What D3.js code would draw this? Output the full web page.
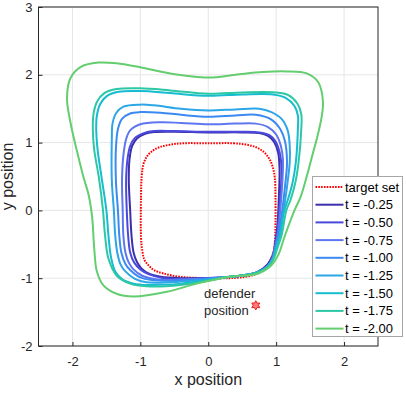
<!DOCTYPE html>
<html>
  <head>
    <meta charset="utf-8">
    <title>Reach-avoid level sets</title>
    <script src="https://d3js.org/d3.v7.min.js"></script>
    <style>
      body { margin: 0; background: #fff; }
      svg { font-family: "Liberation Sans", Arial, sans-serif; }
      .grid line { stroke: #e6e6e6; stroke-width: 1; }
      .axis path, .axis line { stroke: #262626; }
      .axis text { fill: #262626; font-size: 13px; }
      .contour { fill: none; stroke-width: 2; }
    </style>
  </head>
  <body>
    <svg id="chart" width="406" height="393"></svg>
    <script>
      // tick labels
      xTicks = [-2, -1, 0, 1, 2];
      yTicks = [-2, -1, 0, 1, 2, 3];
      // legend entries
      times = ["-0.25", "-0.50", "-0.75", "-1.00", "-1.25", "-1.50", "-1.75", "-2.00"];
      colours = ["#3b2fab", "#4a49dc", "#5e76f0", "#3c89f1", "#2ca6e6", "#16bccf", "#2cc7a4", "#63cd6f"];
      // target set outline
      targetSet = [[0,0.99],[0.37,0.99],[0.56,0.97],[0.71,0.93],[0.82,0.86],[0.9,0.76],[0.95,0.64],[0.98,0.48],[0.99,0.2],[0.99,-0.2],[0.98,-0.48],[0.96,-0.62],[0.9,-0.76],[0.81,-0.87],[0.7,-0.94],[0.54,-0.98],[0.3,-1.0],[0,-1.0],[-0.41,-0.98],[-0.66,-0.93],[-0.8,-0.88],[-0.88,-0.81],[-0.94,-0.73],[-0.97,-0.6],[-0.99,-0.4],[-0.99,0.2],[-0.98,0.5],[-0.955,0.68],[-0.9,0.8],[-0.81,0.885],[-0.71,0.935],[-0.56,0.97],[-0.37,0.99]];
      // level set outlines, one per time
      c025 = [[0,1.15],[0.5,1.15],[0.75,1.14],[0.88,1.1],[0.97,1.01],[1.03,0.85],[1.05,0.6],[1.04,0.2],[1.02,-0.2],[0.99,-0.45],[0.95,-0.66],[0.87,-0.8],[0.72,-0.91],[0.5,-0.96],[0.2,-0.99],[-0.4,-1.0],[-0.7,-0.98],[-0.88,-0.93],[-0.98,-0.86],[-1.05,-0.76],[-1.1,-0.62],[-1.13,-0.37],[-1.15,0],[-1.17,0.44],[-1.16,0.75],[-1.12,0.95],[-1.05,1.06],[-0.93,1.13],[-0.8,1.155],[-0.5,1.16]];
      c050 = [[0,1.16],[0.5,1.16],[0.75,1.15],[0.9,1.11],[0.99,1.02],[1.05,0.86],[1.08,0.6],[1.06,0.2],[1.03,-0.2],[1.0,-0.45],[0.96,-0.66],[0.88,-0.8],[0.72,-0.91],[0.5,-0.96],[0.2,-0.99],[-0.4,-1.01],[-0.66,-1.0],[-0.88,-0.94],[-1.0,-0.87],[-1.09,-0.77],[-1.15,-0.62],[-1.18,-0.37],[-1.2,0],[-1.21,0.44],[-1.19,0.75],[-1.15,0.95],[-1.08,1.07],[-0.95,1.14],[-0.8,1.17],[-0.5,1.17]];
      c075 = [[0,1.27],[0.4,1.28],[0.7,1.28],[0.88,1.23],[1.0,1.12],[1.07,0.95],[1.1,0.75],[1.09,0.4],[1.06,0],[1.02,-0.37],[0.98,-0.55],[0.94,-0.72],[0.86,-0.84],[0.7,-0.93],[0.32,-0.98],[-0.4,-1.02],[-0.75,-1.02],[-0.98,-0.96],[-1.1,-0.87],[-1.17,-0.77],[-1.22,-0.62],[-1.25,-0.37],[-1.26,0],[-1.27,0.44],[-1.25,0.81],[-1.21,1.05],[-1.15,1.18],[-1.0,1.27],[-0.7,1.3],[-0.4,1.29]];
      c100 = [[0,1.38],[0.4,1.4],[0.7,1.41],[0.93,1.34],[1.06,1.2],[1.13,1.02],[1.16,0.71],[1.13,0.35],[1.09,0],[1.03,-0.37],[0.99,-0.55],[0.95,-0.72],[0.86,-0.84],[0.7,-0.93],[0.32,-0.98],[-0.4,-1.03],[-0.81,-1.03],[-1.02,-0.98],[-1.15,-0.88],[-1.22,-0.79],[-1.28,-0.62],[-1.31,-0.37],[-1.33,0],[-1.36,0.44],[-1.36,0.91],[-1.33,1.2],[-1.27,1.35],[-1.15,1.43],[-1.0,1.45],[-0.7,1.44],[-0.4,1.41]];
      c125 = [[0,1.475],[0.4,1.49],[0.75,1.5],[0.93,1.45],[1.08,1.35],[1.17,1.18],[1.2,0.95],[1.2,0.71],[1.16,0.35],[1.11,0],[1.05,-0.37],[1.0,-0.55],[0.95,-0.72],[0.87,-0.83],[0.71,-0.92],[0.32,-0.98],[-0.4,-1.05],[-0.91,-1.06],[-1.08,-1.01],[-1.22,-0.9],[-1.29,-0.8],[-1.34,-0.62],[-1.37,-0.37],[-1.39,0],[-1.42,0.44],[-1.42,1.06],[-1.41,1.28],[-1.36,1.43],[-1.25,1.53],[-1.0,1.56],[-0.8,1.55],[-0.4,1.5]];
      c150 = [[0,1.69],[0.5,1.71],[0.95,1.71],[1.14,1.66],[1.27,1.54],[1.32,1.4],[1.32,1.2],[1.29,0.71],[1.24,0.4],[1.17,0.15],[1.12,0],[1.06,-0.37],[1.01,-0.52],[0.95,-0.72],[0.87,-0.83],[0.71,-0.92],[0.32,-0.98],[-0.4,-1.08],[-0.9,-1.1],[-1.1,-1.08],[-1.26,-1.02],[-1.37,-0.9],[-1.43,-0.7],[-1.47,-0.37],[-1.5,0],[-1.57,0.48],[-1.63,0.9],[-1.65,1.2],[-1.64,1.4],[-1.59,1.57],[-1.49,1.69],[-1.32,1.75],[-1.0,1.76],[-0.56,1.73]];
      c175 = [[0,1.72],[0.5,1.74],[0.98,1.74],[1.18,1.7],[1.31,1.58],[1.37,1.42],[1.37,1.2],[1.33,0.71],[1.28,0.4],[1.21,0.15],[1.15,0],[1.08,-0.37],[1.03,-0.52],[0.96,-0.72],[0.88,-0.83],[0.72,-0.92],[0.32,-0.98],[-0.41,-1.1],[-0.91,-1.12],[-1.15,-1.08],[-1.35,-0.96],[-1.47,-0.71],[-1.52,-0.37],[-1.55,0],[-1.61,0.48],[-1.68,0.9],[-1.7,1.2],[-1.69,1.42],[-1.64,1.6],[-1.53,1.73],[-1.35,1.79],[-1.0,1.8],[-0.56,1.77]];
      c200 = [[0,1.96],[0.4,2.0],[0.8,2.04],[1.15,2.05],[1.45,2.02],[1.62,1.89],[1.69,1.6],[1.67,1.38],[1.61,1.1],[1.53,0.8],[1.45,0.5],[1.36,0.2],[1.27,0],[1.13,-0.37],[1.03,-0.66],[0.93,-0.81],[0.74,-0.93],[0.32,-0.98],[-0.17,-1.08],[-0.61,-1.2],[-1.1,-1.27],[-1.35,-1.23],[-1.54,-1.11],[-1.64,-0.9],[-1.68,-0.55],[-1.71,-0.1],[-1.76,0.22],[-1.84,0.5],[-1.93,0.86],[-2.03,1.3],[-2.08,1.65],[-2.03,1.95],[-1.87,2.12],[-1.62,2.18],[-1.35,2.17],[-1.0,2.11],[-0.56,2.02]];
      levelSets = [c025, c050, c075, c100, c125, c150, c175, c200];
      // defender marker
      defender = [0.7, -1.4];

      // layout
      svg = d3.select("#chart");
      margin = { left: 38.5, right: 378, top: 7, bottom: 346 };
      x = d3.scaleLinear().domain([-2.5, 2.5]).range([margin.left, margin.right]);
      y = d3.scaleLinear().domain([-2, 3]).range([margin.bottom, margin.top]);

      // grid
      grid = svg.append("g").classed("grid", true);
      grid.selectAll(".gx")
        .data(xTicks)
        .enter().append("line")
          .attr("x1", function(d) { return x(d); })
          .attr("x2", function(d) { return x(d); })
          .attr("y1", margin.top)
          .attr("y2", margin.bottom);
      grid.selectAll(".gy")
        .data(yTicks)
        .enter().append("line")
          .attr("y1", function(d) { return y(d); })
          .attr("y2", function(d) { return y(d); })
          .attr("x1", margin.left)
          .attr("x2", margin.right);

      // curves
      line = d3.line()
        .x(function(d) { return x(d[0]); })
        .y(function(d) { return y(d[1]); })
        .curve(d3.curveCatmullRomClosed.alpha(0.5));
      svg.append("path")
        .datum(targetSet)
        .attr("d", line)
        .style("fill", "none")
        .style("stroke", "#ff0000")
        .style("stroke-width", 2)
        .style("stroke-dasharray", "1.6,1.2");
      svg.selectAll(".contour")
        .data(levelSets)
        .enter().append("path")
          .classed("contour", true)
          .attr("d", line)
          .style("stroke", function(d, i) { return colours[i]; });

      // defender
      star = d3.range(12).map(function(i) {
        let a = Math.PI / 6 * i - Math.PI / 2;
        let r = i % 2 ? 2.6 : 4.6;
        return [r * Math.cos(a), r * Math.sin(a)];
      });
      svg.append("path")
        .attr("transform", "translate(" + x(defender[0]) + "," + y(defender[1]) + ")")
        .attr("d", "M" + star.join("L") + "Z")
        .style("fill", "#ff7a7a")
        .style("stroke", "#ee1c1c")
        .style("stroke-width", 1);
      svg.append("text")
        .attr("x", 204)
        .attr("y", 298)
        .style("font-size", "13px")
        .style("fill", "#262626")
        .text("defender");
      svg.append("text")
        .attr("x", 204)
        .attr("y", 315)
        .style("font-size", "13px")
        .style("fill", "#262626")
        .text("position");

      // axes
      fmt = function(d) { return String(d); };
      svg.append("g")
        .classed("axis", true)
        .attr("transform", "translate(0," + margin.bottom + ")")
        .call(d3.axisBottom(x).tickValues(xTicks).tickFormat(fmt).tickSizeInner(-4).tickSizeOuter(0).tickPadding(11))
        .call(function(g) { g.select(".domain").remove(); });
      svg.append("g")
        .classed("axis", true)
        .attr("transform", "translate(" + margin.left + ",0)")
        .call(d3.axisLeft(y).tickValues(yTicks).tickFormat(fmt).tickSizeInner(-4).tickSizeOuter(0).tickPadding(6))
        .call(function(g) { g.select(".domain").remove(); });
      svg.append("rect")
        .attr("x", margin.left)
        .attr("y", margin.top)
        .attr("width", margin.right - margin.left)
        .attr("height", margin.bottom - margin.top)
        .style("fill", "none")
        .style("stroke", "#262626")
        .style("stroke-width", 1);
      svg.append("text")
        .attr("x", x(0))
        .attr("y", 385)
        .attr("text-anchor", "middle")
        .style("font-size", "16px")
        .style("fill", "#262626")
        .text("x position");
      svg.append("text")
        .attr("transform", "translate(13," + y(0.5) + ") rotate(-90)")
        .attr("text-anchor", "middle")
        .style("font-size", "16px")
        .style("fill", "#262626")
        .text("y position");

      // legend
      legend = svg.append("g").attr("transform", "translate(312.5,176.5)");
      legend.append("rect")
        .attr("width", 90)
        .attr("height", 160)
        .style("fill", "#fff")
        .style("stroke", "#a6a6a6");
      entries = [{ label: "target set", colour: "#ff0000", dash: "1.6,1.2" }]
        .concat(times.map(function(t, i) { return { label: "t = " + t, colour: colours[i], dash: null }; }));
      rows = legend.selectAll(".entry")
        .data(entries)
        .enter().append("g")
          .classed("entry", true)
          .attr("transform", function(d, i) { return "translate(0," + (10.5 + i * 17.7) + ")"; });
      rows.append("line")
        .attr("x1", 3)
        .attr("x2", 31)
        .style("stroke", function(d) { return d.colour; })
        .style("stroke-width", 2)
        .style("stroke-dasharray", function(d) { return d.dash; });
      rows.append("text")
        .attr("x", 32.5)
        .attr("dy", "0.35em")
        .style("font-size", "13px")
        .style("fill", "#000")
        .text(function(d) { return d.label; });
    </script>
  </body>
</html>
